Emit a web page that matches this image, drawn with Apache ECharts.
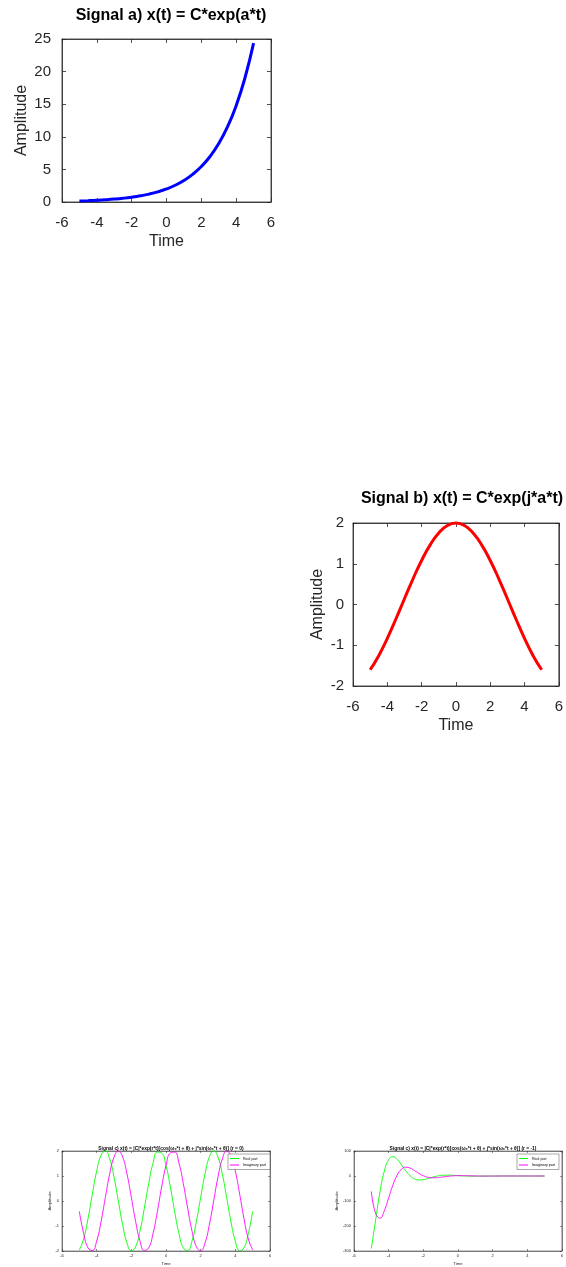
<!DOCTYPE html>
<html>
<head>
<meta charset="utf-8">
<script src="https://cdn.jsdelivr.net/npm/echarts@6/dist/echarts.min.js"></script>
<style>
html,body{margin:0;padding:0;background:#fff;}
#chart{width:566px;height:1267px;}
</style>
</head>
<body>
<div id="chart"></div>
<script>
// ---- data ----
var timeAB = [-5,-4.5,-4,-3.5,-3,-2.5,-2,-1.5,-1,-0.5,0,0.5,1,1.5,2,2.5,3,3.5,4,4.5,5];
var sigA = [0.164,0.211,0.271,0.348,0.446,0.573,0.736,0.945,1.213,1.558,2.0,2.568,3.297,4.234,5.437,6.981,8.963,11.51,14.78,18.98,24.36];
var sigB = [-1.602,-1.256,-0.832,-0.356,0.142,0.631,1.081,1.463,1.755,1.938,2.0,1.938,1.755,1.463,1.081,0.631,0.142,-0.356,-0.832,-1.256,-1.602];

var timeC = [-5,-4.75,-4.5,-4.25,-4,-3.75,-3.5,-3.25,-3,-2.75,-2.5,-2.25,-2,-1.75,-1.5,-1.25,-1,-0.75,-0.5,-0.25,0,
             0.25,0.5,0.75,1,1.25,1.5,1.75,2,2.25,2.5,2.75,3,3.25,3.5,3.75,4,4.25,4.5,4.75,5];
var c1Real = [-1.956,-1.516,-0.706,0.278,1.193,1.817,1.995,1.685,0.963,0.004,-0.955,-1.681,-1.995,-1.820,-1.200,-0.287,0.697,1.511,1.954,1.919,1.414,
              0.563,-0.426,-1.311,-1.874,-1.979,-1.600,-0.828,0.146,1.084,1.757,2.000,1.753,1.077,0.137,-0.836,-1.605,-1.981,-1.871,-1.304,-0.417];
var c1Imag = [-0.417,-1.304,-1.871,-1.981,-1.605,-0.836,0.137,1.077,1.753,2.000,1.757,1.084,0.146,-0.828,-1.600,-1.979,-1.874,-1.311,-0.426,0.563,1.414,
              1.919,1.954,1.511,0.697,-0.287,-1.200,-1.820,-1.995,-1.681,-0.955,0.004,0.963,1.685,1.995,1.817,1.193,0.278,-0.706,-1.516,-1.956];
var c2Real = [-290.3,-175.3,-63.5,19.5,65.2,77.3,66.1,43.5,19.3,0.07,-11.6,-15.9,-14.7,-10.5,-5.38,-1.00,1.90,3.20,3.22,2.46,1.41,
              0.44,-0.26,-0.62,-0.69,-0.57,-0.36,-0.14,0.02,0.11,0.14,0.13,0.09,0.04,0.00,-0.02,-0.03,-0.03,-0.02,-0.01,0.00];
var c2Imag = [-61.9,-150.7,-168.5,-138.9,-87.6,-35.6,4.5,27.8,35.2,31.3,21.4,10.3,1.08,-4.77,-7.17,-6.91,-5.10,-2.77,-0.70,0.72,1.41,
              1.50,1.19,0.71,0.26,-0.08,-0.27,-0.32,-0.27,-0.18,-0.08,0.00,0.05,0.07,0.06,0.04,0.02,0.00,-0.01,-0.01,-0.01];

var titles = ['Signal a) x(t) = C*exp(a*t)',
              'Signal b) x(t) = C*exp(j*a*t)',
              'Signal c) x(t) = |C|*exp(r*t)[cos(\u03c9\u2080*t + \u03b8) + j*sin(\u03c9\u2080*t + \u03b8)] (r = 0)',
              'Signal c) x(t) = |C|*exp(r*t)[cos(\u03c9\u2080*t + \u03b8) + j*sin(\u03c9\u2080*t + \u03b8)] (r = -1)'];
var xName = 'Time', yName = 'Amplitude';
var legendNames = ['Real part', 'Imaginary part'];
var xRange = [-6, 6, 2];
var yRanges = [[0, 25, 5], [-2, 2, 1], [-2, 2, 1], [-300, 100, 100]];

function pairs(t, v){ return t.map(function(x,i){ return [x, v[i]]; }); }

var FONT = '"Liberation Sans", Arial, Helvetica, sans-serif';
var TXT = '#262626';

// layout per panel
var panels = [
  {grid:{left:62, top:39, width:209, height:163}, big:true, title:{x:166, y:3}, yGap:32, xGap:32, yMargin:11, xMargin:13},
  {grid:{left:353, top:523, width:210, height:163}, big:true, title:{x:457, y:486}, yGap:27, xGap:32, yMargin:9, xMargin:13},
  {grid:{left:62, top:1151, width:208, height:104}, big:false, title:{x:166, y:1141}, yGap:9, xGap:11, yMargin:3, xMargin:3},
  {grid:{left:354, top:1151, width:208, height:104}, big:false, title:{x:458, y:1141}, yGap:15, xGap:11, yMargin:3, xMargin:3}
];

var option = {
  animation:false,
  backgroundColor:'#fff',
  textStyle:{fontFamily:FONT},
  title:[], grid:[], xAxis:[], yAxis:[], series:[], legend:[]
};

panels.forEach(function(p, i){
  var big = p.big;
  var fs = big ? 15 : 4;
  option.title.push({
    text: titles[i], left: p.title.x, top: p.title.y, textAlign:'center',
    textStyle:{fontFamily:FONT, fontWeight:'bold', fontSize: big ? 16 : 4.9, color:'#000'}
  });
  option.grid.push({
    left:p.grid.left, top:p.grid.top, width:p.grid.width, height:p.grid.height,
    show:true, borderColor:'#262626', borderWidth: big ? 0.8 : 0.5, backgroundColor:'#fff', containLabel:false
  });
  var yr = yRanges[i];
  var axLine = {show:true, onZero:false, lineStyle:{color:TXT, width: big ? 0.8 : 0.5}};
  var tick = {show:true, inside:true, length: big ? 4 : 2, lineStyle:{color:TXT, width: big ? 0.8 : 0.5}};
  option.xAxis.push({
    type:'value', gridIndex:i, min:xRange[0], max:xRange[1], interval:xRange[2], position:'bottom',
    name:xName, nameLocation:'middle', nameGap: p.xGap,
    nameTextStyle:{fontFamily:FONT, fontSize: big ? 16 : 4.3, color:TXT},
    axisLine:axLine, axisTick:tick, splitLine:{show:false},
    axisLabel:{fontFamily:FONT, fontSize:fs, color:TXT, margin: p.xMargin}
  });
  option.xAxis.push({
    type:'value', gridIndex:i, min:xRange[0], max:xRange[1], interval:xRange[2], position:'top',
    axisLine:axLine, axisTick:tick, splitLine:{show:false}, axisLabel:{show:false}
  });
  option.yAxis.push({
    type:'value', gridIndex:i, min:yr[0], max:yr[1], interval:yr[2], position:'left',
    name:yName, nameLocation:'middle', nameGap: p.yGap,
    nameTextStyle:{fontFamily:FONT, fontSize: big ? 16 : 4.3, color:TXT},
    axisLine:axLine, axisTick:tick, splitLine:{show:false},
    axisLabel:{fontFamily:FONT, fontSize:fs, color:TXT, margin: p.yMargin}
  });
  option.yAxis.push({
    type:'value', gridIndex:i, min:yr[0], max:yr[1], interval:yr[2], position:'right',
    axisLine:axLine, axisTick:tick, splitLine:{show:false}, axisLabel:{show:false}
  });
});

function lineSeries(name, xi, yi, data, color, width){
  return {type:'line', name:name, xAxisIndex:xi, yAxisIndex:yi, data:data,
    showSymbol:false, symbol:'none', smooth:true, clip:false,
    lineStyle:{color:color, width:width}, itemStyle:{color:color}};
}

option.series.push(lineSeries('a', 0, 0, pairs(timeAB, sigA), '#0000ff', 3));
option.series.push(lineSeries('b', 2, 2, pairs(timeAB, sigB), '#ff0000', 3));
option.series.push(lineSeries(legendNames[0], 4, 4, pairs(timeC, c1Real), '#00ff00', 0.9));
option.series.push(lineSeries(legendNames[1], 4, 4, pairs(timeC, c1Imag), '#ff00ff', 0.9));
option.series.push(lineSeries(legendNames[0], 6, 6, pairs(timeC, c2Real), '#00ff00', 0.9));
option.series.push(lineSeries(legendNames[1], 6, 6, pairs(timeC, c2Imag), '#ff00ff', 0.9));

[{left:228, top:1154}, {left:517, top:1154}].forEach(function(pos){
  option.legend.push({
    data:legendNames, left:pos.left, top:pos.top, orient:'vertical',
    icon:'rect', itemWidth:9, itemHeight:1, itemGap:2.5,
    padding:[2.5,4,2.5,2], backgroundColor:'#fff', borderColor:'#262626', borderWidth:0.4,
    selectedMode:false,
    textStyle:{fontFamily:FONT, fontSize:3.6, color:'#000', padding:[0,0,0,-1]}
  });
});

var chart = echarts.init(document.getElementById('chart'), null, {renderer:'canvas'});
chart.setOption(option);
</script>
</body>
</html>
